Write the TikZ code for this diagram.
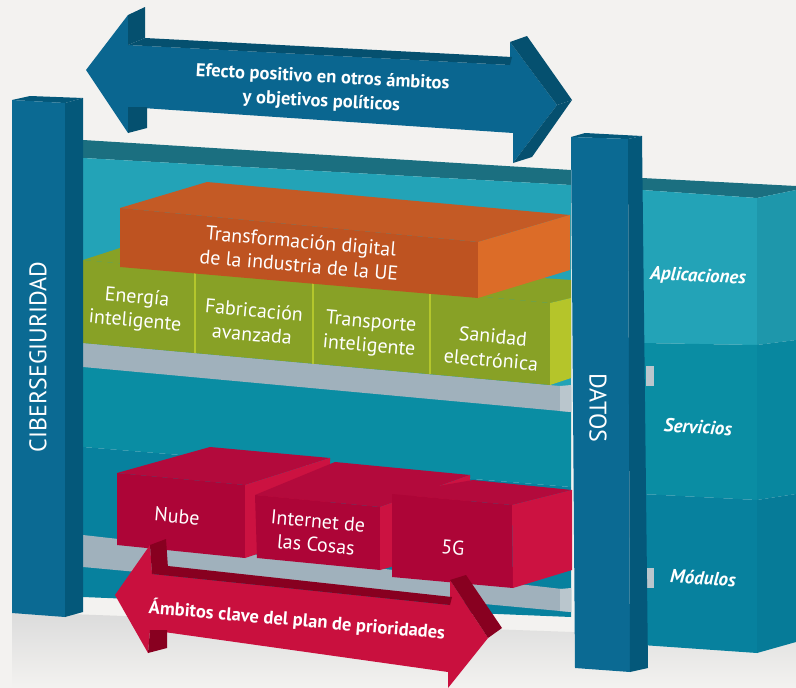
\documentclass[tikz,border=0pt]{standalone}
\usepackage{fontspec}
\setmainfont{PT Sans}
\definecolor{bgray}{HTML}{F3F2F0}
\definecolor{pillar}{HTML}{0B6A93}
\definecolor{pillarside}{HTML}{04587A}
\definecolor{arrowblue}{HTML}{0A6690}
\definecolor{arrowdark}{HTML}{05506F}
\definecolor{striptop}{HTML}{1B6F80}
\definecolor{apl}{HTML}{23A3B7}
\definecolor{aplside}{HTML}{1E97AB}
\definecolor{serv}{HTML}{0A8DA3}
\definecolor{servside}{HTML}{08879F}
\definecolor{modu}{HTML}{07819E}
\definecolor{moduside}{HTML}{067B98}
\definecolor{shelf}{HTML}{A0B1BC}
\definecolor{shelfside}{HTML}{BAC6CD}
\definecolor{orangefront}{HTML}{BE5321}
\definecolor{orangetop}{HTML}{C45A25}
\definecolor{orangeside}{HTML}{DC6C28}
\definecolor{greenfront}{HTML}{88A126}
\definecolor{greenline}{HTML}{B4C62C}
\definecolor{greenside}{HTML}{B5C52A}
\definecolor{redfront}{HTML}{AD0537}
\definecolor{redtop}{HTML}{B30A3C}
\definecolor{redside}{HTML}{CC1241}
\definecolor{arrowred}{HTML}{C9103E}
\definecolor{arrowreddark}{HTML}{880020}
\begin{document}
\begin{tikzpicture}[x=1pt, y=-1pt,
  box text/.style={text=white, font=\fontsize{20}{24}\selectfont, align=center, rotate=-5, inner sep=1pt},
  side label/.style={text=white, font=\fontsize{19}{22}\selectfont\bfseries\itshape, rotate=-3},
  pillar text/.style={text=white, font=\fontsize{24}{26}\selectfont},
  arrow text/.style={text=white, font=\fontsize{18.5}{24}\selectfont\bfseries, align=center, inner sep=1pt}]

\useasboundingbox (0,0) rectangle (796,688);
\fill[bgray] (0,0) rectangle (796,688);
\shade[top color=black!14, bottom color=bgray] (12,612) -- (796,640) -- (796,688) -- (12,688) -- cycle;

% right boxes
\fill[striptop] (642,178) -- (796,186) -- (796,190) -- (757,198) -- (642,190) -- cycle;
\fill[apl] (642,190) -- (757,198) -- (757,345) -- (642,343) -- cycle;
\fill[aplside] (757,198) -- (796,190) -- (796,340) -- (757,345) -- cycle;
\fill[serv] (642,343) -- (757,345) -- (757,500) -- (642,494) -- cycle;
\fill[servside] (757,345) -- (796,340) -- (796,494) -- (757,500) -- cycle;
\fill[modu] (642,494) -- (757,500) -- (757,653) -- (642,645) -- cycle;
\fill[moduside] (757,500) -- (796,494) -- (796,642) -- (757,653) -- cycle;
\fill[shelfside] (646,366) rectangle (654,386);
\fill[shelfside] (646,568) rectangle (654,588);
\node[side label] (apl) at (698,277) {Aplicaciones};
\node[side label] (serv) at (698,427) {Servicios};
\node[side label] (mod) at (703,578) {Módulos};

% back panel
\fill[striptop] (83,140) -- (571,170) -- (571,185) -- (83,158) -- cycle;
\fill[apl] (83,158) -- (571,185) -- (571,400) -- (83,355) -- cycle;
\fill[serv] (83,355) -- (571,400) -- (571,487) -- (83,447) -- cycle;
\fill[modu] (83,447) -- (571,487) -- (571,617) -- (83,597) -- cycle;

% shelves
\fill[shelf] (83,343) -- (571,387) -- (571,412) -- (83,367) -- cycle;
\fill[shelfside] (560,386) -- (571,385) -- (571,412) -- (560,411) -- cycle;
\fill[shelf] (83,535) -- (571,590) -- (571,612) -- (83,567) -- cycle;
\fill[shelfside] (560,589) -- (571,588) -- (571,612) -- (560,611) -- cycle;

% green row
\fill[greenfront] (83,260) -- (120,248) -- (571,280) -- (571,298) -- (550,303) -- cycle;
\fill[greenfront] (83,260) -- (550,303) -- (550,385) -- (83,343) -- cycle;
\fill[greenside] (550,303) -- (571,298) -- (571,378) -- (550,385) -- cycle;
\foreach \x/\t/\b in {195/270/353, 313/281/364, 430/292/374}
  \draw[greenline, line width=2.5pt] (\x,\t) -- (\x,\b);

% orange box
\fill[orangetop] (120,208) -- (207,182) -- (570,215) -- (478,242) -- cycle;
\fill[orangefront] (120,208) -- (478,242) -- (478,298) -- (120,267) -- cycle;
\fill[orangeside] (478,242) -- (570,215) -- (570,270) -- (478,298) -- cycle;
\node[box text] (trans) at (300,253) {Transformación digital\\de la industria de la UE};

\node[box text] (energia) at (136,310) {Energía\\inteligente};
\node[box text] (fabric) at (253,322) {Fabricación\\avanzada};
\node[box text] (transp) at (370,335) {Transporte\\inteligente};
\node[box text] (sanidad) at (492,348) {Sanidad\\electrónica};

% red boxes
\fill[redtop] (117,473) -- (210,447) -- (330,458) -- (245,485) -- cycle;
\fill[redfront] (117,473) -- (245,485) -- (245,558) -- (117,545) -- cycle;
\fill[redside] (245,485) -- (330,458) -- (330,530) -- (245,558) -- cycle;
\fill[redtop] (255,495) -- (335,462) -- (470,475) -- (380,507) -- cycle;
\fill[redfront] (255,495) -- (380,507) -- (380,570) -- (257,558) -- cycle;
\fill[redside] (380,507) -- (470,475) -- (470,545) -- (380,570) -- cycle;
\fill[redtop] (392,494) -- (473,480) -- (572,490) -- (512,505) -- cycle;
\fill[redfront] (392,494) -- (512,505) -- (513,588) -- (392,577) -- cycle;
\fill[redside] (512,505) -- (572,490) -- (572,570) -- (513,588) -- cycle;
\node[box text] (nube) at (177,516) {Nube};
\node[box text] (iot) at (317,533) {Internet de\\las Cosas};
\node[box text] (cinco) at (453,548) {5G};

% red arrow
\fill[arrowred] (115,595) -- (150,545) -- (152,574) -- (450,605) -- (450,580) -- (488,638)
  -- (448,688) -- (448,672) -- (150,630) -- (148,653) -- cycle;
\fill[arrowreddark] (150,545) -- (166,539) -- (168,568) -- (152,574) -- cycle;
\fill[arrowreddark] (152,574) -- (168,566) -- (452,597) -- (450,605) -- cycle;
\fill[arrowreddark] (450,580) -- (466,575) -- (502,628) -- (488,638) -- cycle;
\fill[arrowreddark] (150,630) -- (167,630) -- (167,648) -- (148,653) -- cycle;
\node[arrow text, rotate=-5] (ambitos) at (297,620) {Ámbitos clave del plan de prioridades};

% pillars
\fill[pillarside] (12,100) -- (30,96) -- (83,98) -- (65,103) -- cycle;
\fill[pillar] (12,100) -- (65,103) -- (65,617) -- (12,613) -- cycle;
\fill[pillarside] (65,103) -- (83,98) -- (83,612) -- (65,617) -- cycle;
\node[pillar text, rotate=90] (ciber) at (38,357) {CIBERSEGIURIDAD};

\fill[pillarside] (571,137) -- (585,133) -- (642,136) -- (628,139) -- cycle;
\fill[pillar] (571,137) -- (628,139) -- (630,672) -- (575,668) -- cycle;
\fill[pillarside] (628,139) -- (642,136) -- (648,668) -- (630,672) -- cycle;
\node[pillar text, rotate=-90] (datos) at (598,408) {DATOS};

% blue arrow
\fill[arrowblue] (86,70) -- (128,15) -- (128,45) -- (510,65) -- (510,42) -- (557,105)
  -- (513,163) -- (513,133) -- (128,107) -- (128,133) -- cycle;
\fill[arrowdark] (128,15) -- (145,7) -- (145,38) -- (128,45) -- cycle;
\fill[arrowdark] (128,45) -- (145,38) -- (512,57) -- (510,65) -- cycle;
\fill[arrowdark] (510,42) -- (527,36) -- (572,100) -- (557,105) -- cycle;
\fill[arrowdark] (557,105) -- (572,100) -- (532,157) -- (513,163) -- cycle;
\fill[arrowdark] (128,107) -- (147,107) -- (147,128) -- (128,133) -- cycle;
\node[arrow text, rotate=-3] (efecto) at (322,90) {Efecto positivo en otros ámbitos\\y objetivos políticos};

\end{tikzpicture}
\end{document}
